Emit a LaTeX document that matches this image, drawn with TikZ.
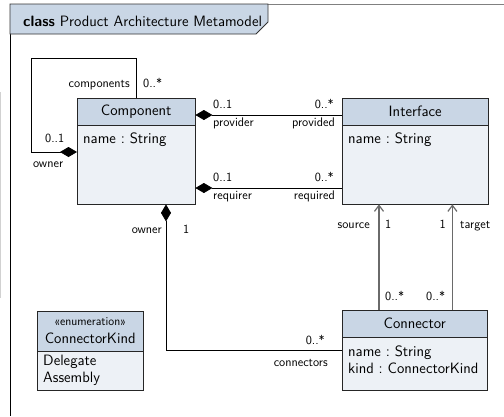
\documentclass[tikz,border=0pt]{standalone}
\usepackage{fontspec}
\usetikzlibrary{arrows.meta,calc}

\definecolor{headfill}{HTML}{C9D6E5}
\definecolor{bodyfill}{HTML}{EDF1F6}
\definecolor{framegray}{HTML}{808080}
\definecolor{navgray}{HTML}{6A6A6A}

\tikzset{
  umltext/.style={font=\sffamily\frenchspacing\fontsize{15}{18}\selectfont, inner sep=0pt},
  stereo/.style={font=\sffamily\fontsize{12}{14}\selectfont, inner sep=0pt},
  rolelabel/.style={font=\sffamily\fontsize{12.5}{14}\selectfont, inner sep=0pt},
  classbody/.style={fill=bodyfill, inner sep=0pt, anchor=north west},
  outline/.style={draw=black!85, line width=0.8pt},
  assoc/.style={draw=black, line width=0.8pt},
  composite/.style={assoc, {Diamond[length=17pt,width=10pt]}-},
  compositeend/.style={assoc, -{Diamond[length=17pt,width=10pt]}},
  navig/.style={draw=navgray, line width=1.2pt, -{Straight Barb[length=6pt,width=9pt]}},
}

\begin{document}
\begin{tikzpicture}[x=1pt,y=-1pt]
\useasboundingbox (0,0) rectangle (504,416);
\fill[white] (0,0) rectangle (504,416);

% faint rule along the left edge
\draw[black!18, line width=1pt] (0.8,92) -- (0.8,298);

% diagram frame and its title tab
\draw[framegray, line width=0.8pt] (10,4) -- (504,4);
\draw[black, line width=0.8pt] (10,4) -- (10,416);
\filldraw[fill=headfill, draw=black!80, line width=0.8pt]
  (10,4) -- (268,4) -- (268,22) -- (256,34) -- (10,34) -- cycle;
\node[umltext, anchor=base west] (title) at (23,26.5)
  {{\bfseries class} Product Architecture Metamodel};

% ---- Component
\node[classbody, minimum width=118pt, minimum height=106pt] (comp) at (77,98) {};
\fill[headfill] (comp.north west) rectangle ($(comp.north east)+(0,27)$);
\draw[outline] (comp.north west) rectangle (comp.south east);
\draw[outline] ($(comp.north west)+(0,27)$) -- ($(comp.north east)+(0,27)$);
\node[umltext] (compname) at ($(comp.north)+(0,13.5)$) {Component};
\node[umltext, anchor=base west] (compattr) at ($(comp.north west)+(6,45)$) {name : String};

% ---- Interface
\node[classbody, minimum width=146pt, minimum height=106pt] (iface) at (342,98) {};
\fill[headfill] (iface.north west) rectangle ($(iface.north east)+(0,27)$);
\draw[outline] (iface.north west) rectangle (iface.south east);
\draw[outline] ($(iface.north west)+(0,27)$) -- ($(iface.north east)+(0,27)$);
\node[umltext] (ifacename) at ($(iface.north)+(0,13.5)$) {Interface};
\node[umltext, anchor=base west] (ifaceattr) at ($(iface.north west)+(6,45)$) {name : String};

% ---- Connector
\node[classbody, minimum width=145pt, minimum height=80pt] (conn) at (342,310) {};
\fill[headfill] (conn.north west) rectangle ($(conn.north east)+(0,27)$);
\draw[outline] (conn.north west) rectangle (conn.south east);
\draw[outline] ($(conn.north west)+(0,27)$) -- ($(conn.north east)+(0,27)$);
\node[umltext] (connname) at ($(conn.north)+(0,13.5)$) {Connector};
\node[umltext, anchor=base west] (connattrA) at ($(conn.north west)+(6,46)$) {name : String};
\node[umltext, anchor=base west] (connattrB) at ($(conn.north west)+(6,63)$) {kind : ConnectorKind};

% ---- ConnectorKind enumeration
\node[classbody, minimum width=106pt, minimum height=79pt] (kind) at (37,311) {};
\fill[headfill] (kind.north west) rectangle ($(kind.north east)+(0,40)$);
\draw[outline] (kind.north west) rectangle (kind.south east);
\draw[outline] ($(kind.north west)+(0,40)$) -- ($(kind.north east)+(0,40)$);
\node[stereo] (kindstereo) at ($(kind.north)+(0,11)$) {«enumeration»};
\node[umltext, anchor=base] (kindname) at ($(kind.north)+(0,32)$) {ConnectorKind};
\node[umltext, anchor=base west] (kindlitA) at ($(kind.north west)+(6,54)$) {Delegate};
\node[umltext, anchor=base west] (kindlitB) at ($(kind.north west)+(6,71)$) {Assembly};

% ---- associations
\coordinate (loopTL) at (31,58);
\coordinate (loopBL) at (31,152);
\draw[compositeend] (comp.north) |- (loopTL) -- (loopBL) -- (loopBL -| comp.west);

\coordinate (provY) at (0,115);
\draw[composite] (comp.east |- provY) -- (iface.west |- provY);

\coordinate (reqY) at (0,188);
\draw[composite] (comp.east |- reqY) -- (iface.west |- reqY);

\coordinate (ownCorner) at (166,350);
\draw[composite] (comp.south -| ownCorner) -- (ownCorner) -- (ownCorner -| conn.west);

\coordinate (srcFoot) at ($(conn.north west)+(37,0)$);
\coordinate (tgtFoot) at ($(conn.north east)+(-35,0)$);
\draw[navig] (srcFoot) -- (srcFoot |- iface.south);
\draw[navig] (tgtFoot) -- (tgtFoot |- iface.south);

% ---- role names and multiplicities
\node[rolelabel, anchor=base east] (lcomps) at (130,87) {components};
\node[rolelabel, anchor=base west] (lcompsm) at (143,87) {0..*};
\node[rolelabel, anchor=base west] (lownm) at (45,142) {0..1};
\node[rolelabel, anchor=base west] (lown) at (33,167) {owner};

\node[rolelabel, anchor=base west] (lprovm) at (213,108) {0..1};
\node[rolelabel, anchor=base west] (lprov) at (213,126) {provider};
\node[rolelabel, anchor=base east] (lprovdm) at (334,108) {0..*};
\node[rolelabel, anchor=base east] (lprovd) at (335,126) {provided};

\node[rolelabel, anchor=base west] (lreqm) at (213,181) {0..1};
\node[rolelabel, anchor=base west] (lreq) at (213,199) {requirer};
\node[rolelabel, anchor=base east] (lreqdm) at (334,181) {0..*};
\node[rolelabel, anchor=base east] (lreqd) at (335,199) {required};

\node[rolelabel, anchor=base east] (lcowner) at (162,233) {owner};
\node[rolelabel, anchor=base west] (lcownerm) at (183,233) {1};
\node[rolelabel, anchor=base east] (lconnm) at (325,344) {0..*};
\node[rolelabel, anchor=base east] (lconn) at (328,366) {connectors};

\node[rolelabel, anchor=base east] (lsrc) at (370,228) {source};
\node[rolelabel, anchor=base west] (lsrcm) at (385,228) {1};
\node[rolelabel, anchor=base east] (ltgtm) at (446,228) {1};
\node[rolelabel, anchor=base west] (ltgt) at (460,228) {target};
\node[rolelabel, anchor=base west] (lsrcfm) at (385,300) {0..*};
\node[rolelabel, anchor=base west] (ltgtfm) at (426,300) {0..*};
\end{tikzpicture}
\end{document}
